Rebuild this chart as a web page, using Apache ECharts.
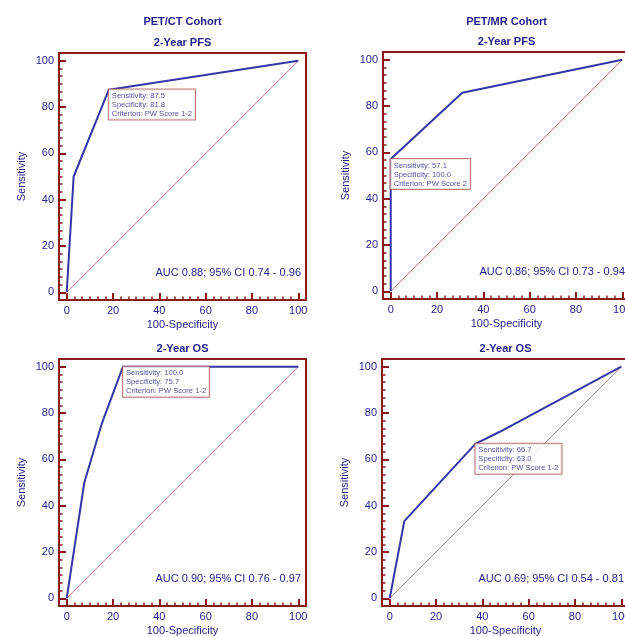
<!DOCTYPE html>
<html>
<head>
<meta charset="utf-8">
<script src="https://cdn.jsdelivr.net/npm/echarts@6/dist/echarts.min.js"></script>
<style>
  html, body { margin: 0; padding: 0; background: #fff; }
  #chart { width: 625px; height: 637px; }
</style>
</head>
<body>
<div id="chart"></div>
<script>
// data
// ----
var majorTicks = [0, 20, 40, 60, 80, 100];

// PET/CT, 2-Year PFS
var ctPfsX = [0, 3, 18.2, 100];
var ctPfsY = [0, 50, 87.5, 100];
var ctPfsCrit = [18.2, 87.5];
var ctPfsBox = ['Sensitivity: 87.5', 'Specificity: 81.8', 'Criterion: PW Score 1-2'];
var ctPfsAuc = 'AUC 0.88; 95% CI 0.74 - 0.96';

// PET/MR, 2-Year PFS
var mrPfsX = [0, 0, 30.9, 100];
var mrPfsY = [0, 57.1, 85.7, 100];
var mrPfsCrit = [0, 57.1];
var mrPfsBox = ['Sensitivity: 57.1', 'Specificity: 100.0', 'Criterion: PW Score 2'];
var mrPfsAuc = 'AUC 0.86; 95% CI 0.73 - 0.94';

// PET/CT, 2-Year OS
var ctOsX = [0, 7.6, 15.1, 24.3, 100];
var ctOsY = [0, 50, 75.3, 100, 100];
var ctOsCrit = [24.3, 100];
var ctOsBox = ['Sensitivity: 100.0', 'Specificity: 75.7', 'Criterion: PW Score 1-2'];
var ctOsAuc = 'AUC 0.90; 95% CI 0.76 - 0.97';

// PET/MR, 2-Year OS
var mrOsX = [0, 6.3, 37.0, 47.3, 100];
var mrOsY = [0, 33.3, 66.7, 71.8, 100];
var mrOsCrit = [37.0, 66.7];
var mrOsBox = ['Sensitivity: 66.7', 'Specificity: 63.0', 'Criterion: PW Score 1-2'];
var mrOsAuc = 'AUC 0.69; 95% CI 0.54 - 0.81';

// diagonal reference line
var refX = [0, 100];
var refY = [0, 100];

// layout / style
// --------------
var navy = '#24248c';
var maroon = '#8b1a1a';
var font = "'Liberation Sans', Arial, sans-serif";

// six minor divisions between majors
var minorTicks = [];
for (var i = 0; i < majorTicks.length - 1; i++) {
  for (var k = 1; k < 6; k++) {
    minorTicks.push(majorTicks[i] + (majorTicks[i + 1] - majorTicks[i]) * k / 6);
  }
}

var panels = [
  { left: 59,  top: 53,  head: '2-Year PFS', x: ctPfsX, y: ctPfsY, crit: ctPfsCrit, box: ctPfsBox, auc: ctPfsAuc },
  { left: 383, top: 52,  head: '2-Year PFS', x: mrPfsX, y: mrPfsY, crit: mrPfsCrit, box: mrPfsBox, auc: mrPfsAuc },
  { left: 59,  top: 359, head: '2-Year OS',  x: ctOsX,  y: ctOsY,  crit: ctOsCrit,  box: ctOsBox,  auc: ctOsAuc },
  { left: 382, top: 359, head: '2-Year OS',  x: mrOsX,  y: mrOsY,  crit: mrOsCrit,  box: mrOsBox,  auc: mrOsAuc }
];
var size = 247;

var pairs = function(xs, ys) {
  return xs.map(function(v, i) { return [v, ys[i]]; });
};

var headStyle = { color: navy, fontSize: 11, fontWeight: 'bold', fontFamily: font };

var option = {
  animation: false,
  backgroundColor: '#fff',
  textStyle: { fontFamily: font },
  title: [], grid: [], xAxis: [], yAxis: [], series: [], graphic: []
};

// cohort headings
option.title.push({ text: 'PET/CT Cohort', left: 59 + size / 2, top: 16, textAlign: 'center', padding: 0, textStyle: headStyle });
option.title.push({ text: 'PET/MR Cohort', left: 383 + size / 2, top: 16, textAlign: 'center', padding: 0, textStyle: headStyle });

panels.forEach(function(p, g) {
  option.title.push({ text: p.head, left: p.left + size / 2, top: p.top - 16, textAlign: 'center', padding: 0, textStyle: headStyle });

  option.grid.push({ left: p.left, top: p.top, width: size, height: size,
    outerBoundsMode: 'none', containLabel: false,
    show: true, borderColor: maroon, borderWidth: 2, backgroundColor: '#fff' });

  var base = { type: 'value', gridIndex: g, min: -10 / 3, max: 310 / 3,
    axisLine: { show: false, onZero: false }, splitLine: { show: false } };

  // major axes (labels + long ticks)
  option.xAxis.push(Object.assign({}, base, {
    position: 'bottom',
    name: '100-Specificity', nameLocation: 'middle', nameGap: 19,
    nameTextStyle: { color: navy, fontSize: 11, fontFamily: font },
    axisTick: { customValues: majorTicks, inside: true, length: 7, lineStyle: { color: maroon, width: 2 } },
    axisLabel: { customValues: majorTicks, color: navy, fontSize: 11, margin: 5, fontFamily: font }
  }));
  option.yAxis.push(Object.assign({}, base, {
    position: 'left',
    name: 'Sensitivity', nameLocation: 'middle', nameGap: 32,
    nameTextStyle: { color: navy, fontSize: 11, fontFamily: font },
    axisTick: { customValues: majorTicks, inside: true, length: 7, lineStyle: { color: maroon, width: 2 } },
    axisLabel: { customValues: majorTicks, color: navy, fontSize: 11, margin: 5, fontFamily: font }
  }));
  // minor axes (short ticks only)
  option.xAxis.push(Object.assign({}, base, {
    position: 'bottom',
    axisTick: { customValues: minorTicks, inside: true, length: 3.5, lineStyle: { color: maroon, width: 1.5 } },
    axisLabel: { show: false }
  }));
  option.yAxis.push(Object.assign({}, base, {
    position: 'left',
    axisTick: { customValues: minorTicks, inside: true, length: 3.5, lineStyle: { color: maroon, width: 1.5 } },
    axisLabel: { show: false }
  }));

  var xi = g * 2, yi = g * 2;

  option.series.push({
    type: 'line', xAxisIndex: xi, yAxisIndex: yi, symbol: 'none', silent: true,
    data: pairs(refX, refY), lineStyle: { color: '#cf8080', width: 1 }, z: 2
  });
  option.series.push({
    type: 'line', xAxisIndex: xi, yAxisIndex: yi, symbol: 'none', silent: true,
    data: pairs(p.x, p.y), lineStyle: { color: '#3535a6', width: 2 }, z: 3
  });
  option.series.push({
    type: 'scatter', xAxisIndex: xi, yAxisIndex: yi, symbolSize: 0.1, silent: true,
    itemStyle: { color: 'rgba(0,0,0,0)' }, z: 4,
    data: [p.crit],
    label: {
      show: true, position: [0, 0], align: 'left', verticalAlign: 'top',
      formatter: p.box.join('\n'),
      color: navy, fontSize: 7.6, lineHeight: 9, fontFamily: font,
      backgroundColor: '#fff', borderColor: '#a85858', borderWidth: 1, padding: [2, 3, 1, 3]
    }
  });

  option.graphic.push({
    type: 'text', x: p.left + 242, y: p.top + 214, silent: true,
    style: { text: p.auc, align: 'right', verticalAlign: 'top', fill: navy, fontSize: 11, fontFamily: font }
  });
});

var myChart = echarts.init(document.getElementById('chart'));
myChart.setOption(option);
</script>
</body>
</html>
